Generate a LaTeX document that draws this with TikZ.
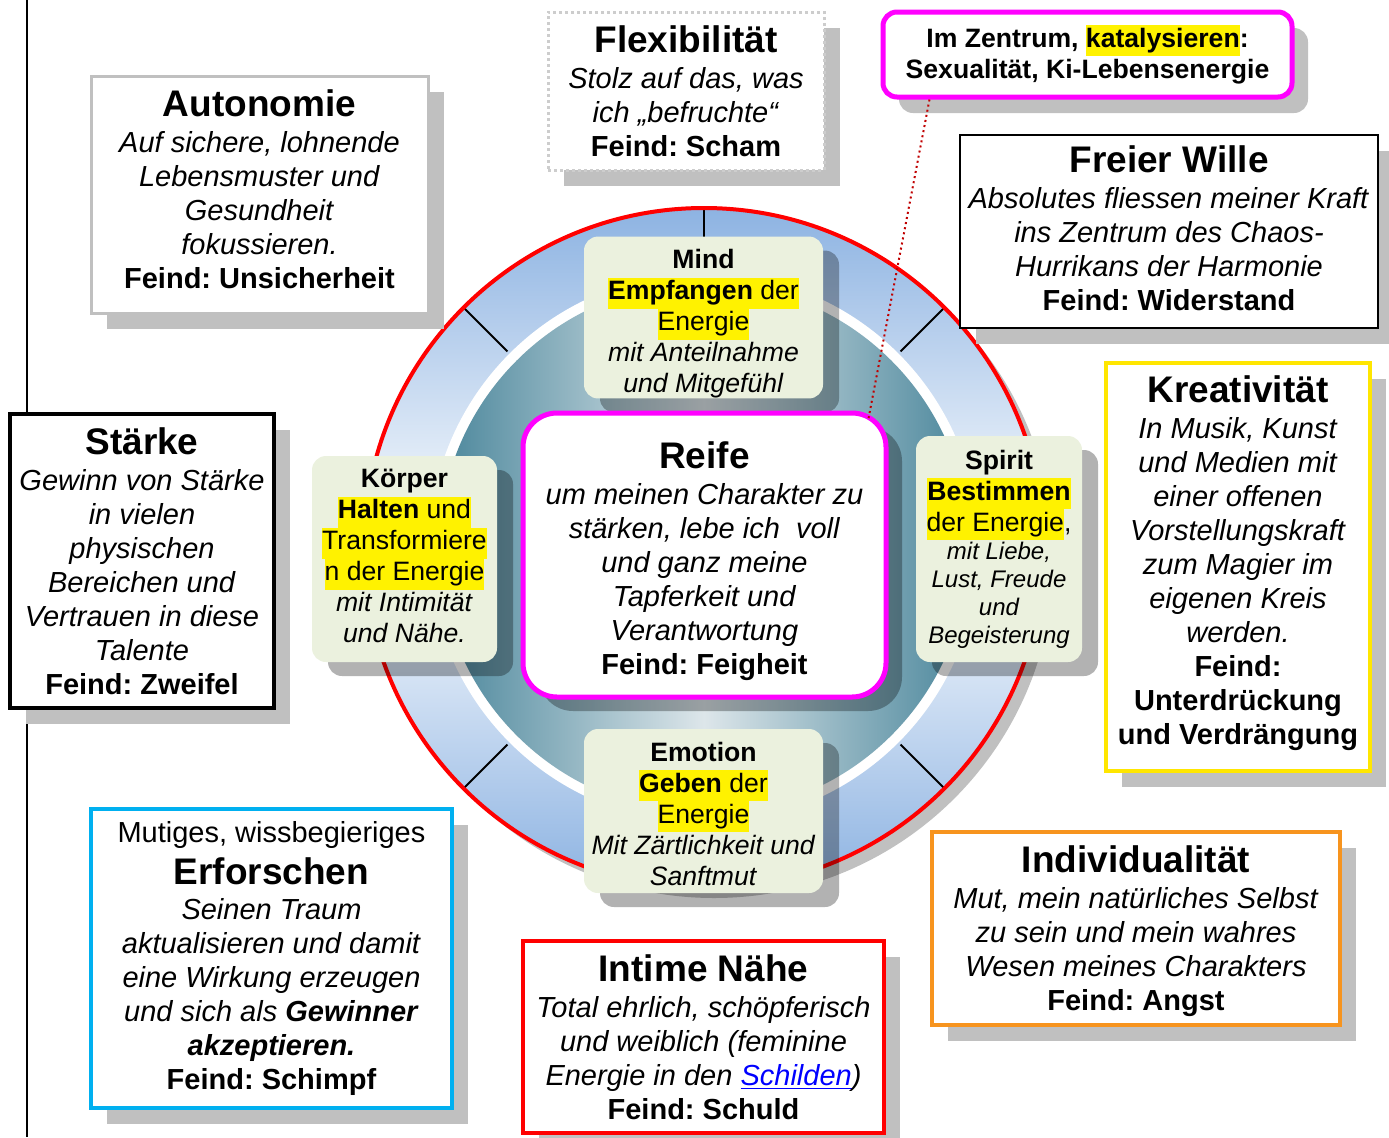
\documentclass[tikz,border=0pt]{standalone}
\usepackage{fontspec}
\setmainfont{Liberation Sans}
\usepackage{tikz}
\usetikzlibrary{shadows}
\frenchspacing

\definecolor{shadowgray}{HTML}{C0C0C0}
\definecolor{ringblue}{HTML}{8DB3E2}
\definecolor{ringteal}{HTML}{4A869B}
\definecolor{tealpale}{HTML}{DDE6EA}
\definecolor{palegreen}{HTML}{EBF1DE}
\definecolor{boxmagenta}{HTML}{FF00FF}
\definecolor{boxcyan}{HTML}{00B0F0}
\definecolor{boxorange}{HTML}{F7941E}
\definecolor{boxyellow}{HTML}{FFE600}
\definecolor{linkblue}{HTML}{0000FF}
\definecolor{dotred}{HTML}{C00000}

\newcommand{\bodyfont}{\fontsize{14.5}{17}\selectfont}
\newcommand{\boxtitle}[1]{{\fontsize{18.5}{22}\selectfont\bfseries #1}}
\newcommand{\ringfont}{\fontsize{13.3}{15.5}\selectfont}
\newcommand{\ringsmall}[1]{{\fontsize{12}{14}\selectfont\itshape #1}}
\newcommand{\hilite}[1]{{\setlength{\fboxsep}{0pt}\colorbox{yellow}{\strut #1}}}

\begin{document}
\begin{tikzpicture}[x=0.5pt,y=0.5pt]
\tikzstyle{every node}+=[align=center]
\tikzstyle{plainshadow}=[general shadow={fill=shadowgray, shadow xshift=8pt, shadow yshift=-8pt}]
\tikzstyle{darkshadow}=[general shadow={fill=black, fill opacity=0.3, shadow xshift=8pt, shadow yshift=-7pt}]
\tikzstyle{textbox}=[draw, fill=white, inner sep=1pt, font=\bodyfont]
\tikzstyle{outerbox}=[textbox, plainshadow]
\tikzstyle{ringbox}=[fill=palegreen, rounded corners=7pt, inner sep=0pt, font=\ringfont, darkshadow]
\tikzstyle{tick}=[black, line width=1pt]
\useasboundingbox (0,0) rectangle (1389,-1137);
\draw [line width=0.8pt] (27,0) -- (27,-1137);

% ring
\coordinate (ctr) at (704,-548);
\fill [shadowgray] (714,-558) circle [radius=170pt];
\shade [top color=ringblue, bottom color=ringblue, middle color=white] (ctr) circle [radius=170pt];
\fill [white] (ctr) circle [radius=137.5pt];
\shade [left color=ringteal, right color=ringteal, middle color=tealpale] (ctr) circle [radius=132.5pt];
\foreach \a in {0,45,...,315}
  \draw [tick] (ctr) ++(\a:139pt) -- ++(\a:31pt);
\draw [red, line width=2pt] (ctr) circle [radius=170pt];

% outer boxes
\node [outerbox, draw=shadowgray, line width=1.5pt, minimum width=168.5pt, minimum height=118.5pt] (autonomie) at (259.5,-194.5)
  {\boxtitle{Autonomie}\\[1pt] \textit{Auf sichere, lohnende}\\ \textit{Lebensmuster und}\\ \textit{Gesundheit}\\ \textit{fokussieren.}\\ \textbf{Feind: Unsicherheit}\rule[-5pt]{0pt}{0pt}};
\node [outerbox, draw=shadowgray!80, line width=1.5pt, dash pattern=on 1.5pt off 1.5pt, minimum width=138pt, minimum height=79pt] (flexi) at (686,-91)
  {\boxtitle{Flexibilität}\\[1pt] \textit{Stolz auf das, was}\\ \textit{ich „befruchte“}\\ \textbf{Feind: Scham}};
\node [outerbox, draw=boxmagenta, line width=2.5pt, rounded corners=7pt, font=\ringfont\bfseries, minimum width=204.5pt, minimum height=42.5pt] (zentrum) at (1087.5,-54.5)
  {Im Zentrum, \hilite{katalysieren}:\\ Sexualität, Ki-Lebensenergie};
\node [outerbox, draw=black, line width=0.6pt, minimum width=209pt, minimum height=96.5pt] (freierwille) at (1169,-231.5)
  {\boxtitle{Freier Wille}\\[1pt] \textit{Absolutes fliessen meiner Kraft}\\ \textit{ins Zentrum des Chaos-}\\ \textit{Hurrikans der Harmonie}\\ \textbf{Feind: Widerstand}\rule[-3.5pt]{0pt}{0pt}};
\node [outerbox, draw=boxyellow, line width=2pt, minimum width=132pt, minimum height=204pt] (kreativ) at (1238,-567)
  {\boxtitle{Kreativität}\\[1pt] \textit{In Musik, Kunst}\\ \textit{und Medien mit}\\ \textit{einer offenen}\\ \textit{Vorstellungskraft}\\ \textit{zum Magier im}\\ \textit{eigenen Kreis}\\ \textit{werden.}\\ \textbf{Feind:}\\ \textbf{Unterdrückung}\\ \textbf{und Verdrängung}\rule[-6.5pt]{0pt}{0pt}};
\node [outerbox, draw=black, line width=1.6pt, minimum width=132pt, minimum height=147pt] (staerke) at (142,-561)
  {\boxtitle{Stärke}\\[1pt] \textit{Gewinn von Stärke}\\ \textit{in vielen}\\ \textit{physischen}\\ \textit{Bereichen und}\\ \textit{Vertrauen in diese}\\ \textit{Talente}\\ \textbf{Feind: Zweifel}};
\node [outerbox, draw=boxcyan, line width=2pt, minimum width=180.5pt, minimum height=149.5pt] (erforschen) at (271.5,-958.5)
  {Mutiges, wissbegieriges\\[4pt] \boxtitle{Erforschen}\\[0.5pt] \textit{Seinen Traum}\\ \textit{aktualisieren und damit}\\ \textit{eine Wirkung erzeugen}\\ \textit{und sich als \textbf{Gewinner}}\\ \textit{\textbf{akzeptieren.}}\\ \textbf{Feind: Schimpf}};
\node [outerbox, draw=red, line width=2pt, minimum width=180.5pt, minimum height=96pt] (intim) at (703.5,-1037)
  {\boxtitle{Intime Nähe}\\[1pt] \textit{Total ehrlich, schöpferisch}\\ \textit{und weiblich (feminine}\\ \textit{Energie in den \textcolor{linkblue}{\underline{Schilden}})}\\ \textbf{Feind: Schuld}};
\node [outerbox, draw=boxorange, line width=2pt, minimum width=204pt, minimum height=96.5pt] (individu) at (1136,-928.5)
  {\rule{0pt}{16pt}\boxtitle{Individualität}\\[1pt] \textit{Mut, mein natürliches Selbst}\\ \textit{zu sein und mein wahres}\\ \textit{Wesen meines Charakters}\\ \textbf{Feind: Angst}};

% boxes on the ring
\node [ringbox, minimum width=119.5pt, minimum height=80.5pt] (mind) at (703.5,-317.5)
  {\rule{0pt}{16.2pt}\textbf{Mind}\\ \hilite{\textbf{Empfangen} der}\\ \hilite{Energie}\\ \textit{mit Anteilnahme}\\ \textit{und Mitgefühl}};
\node [ringbox, minimum width=92.5pt, minimum height=103pt] (koerper) at (404.5,-559)
  {\textbf{Körper}\\ \hilite{\textbf{Halten} und}\\ \hilite{Transformiere}\\ \hilite{n der Energie}\\ \textit{mit Intimität}\\ \textit{und Nähe.}\rule[-3pt]{0pt}{0pt}};
\node [ringbox, minimum width=83pt, minimum height=113pt] (spirit) at (999,-549)
  {\textbf{Spirit}\\ \hilite{\textbf{Bestimmen}}\\ \hilite{der Energie},\\[-1.5pt] \ringsmall{mit Liebe,}\\[-1.5pt] \ringsmall{Lust, Freude}\\[-1.5pt] \ringsmall{und}\\[-1.5pt] \ringsmall{Begeisterung}};
\node [ringbox, minimum width=119.5pt, minimum height=82pt] (emotion) at (703.5,-811)
  {\rule{0pt}{12.2pt}\textbf{Emotion}\\ \hilite{\textbf{Geben} der}\\ \hilite{Energie}\\ \textit{Mit Zärtlichkeit und}\\ \textit{Sanftmut}};
\node [textbox, darkshadow, draw=boxmagenta, line width=2.5pt, rounded corners=17pt, minimum width=181.5pt, minimum height=142pt] (reife) at (704.5,-555)
  {\rule{0pt}{19.5pt}\boxtitle{Reife}\\[1pt] \textit{um meinen Charakter zu}\\ \textit{stärken, lebe ich\ \ voll}\\ \textit{und ganz meine}\\ \textit{Tapferkeit und}\\ \textit{Verantwortung}\\ \textbf{Feind: Feigheit}};

\draw [dotred, line width=1pt, dash pattern=on 1pt off 1.6pt] ([xshift=24.5pt]zentrum.south west) -- ([xshift=-10pt,yshift=-4pt]reife.north east);
\end{tikzpicture}
\end{document}
